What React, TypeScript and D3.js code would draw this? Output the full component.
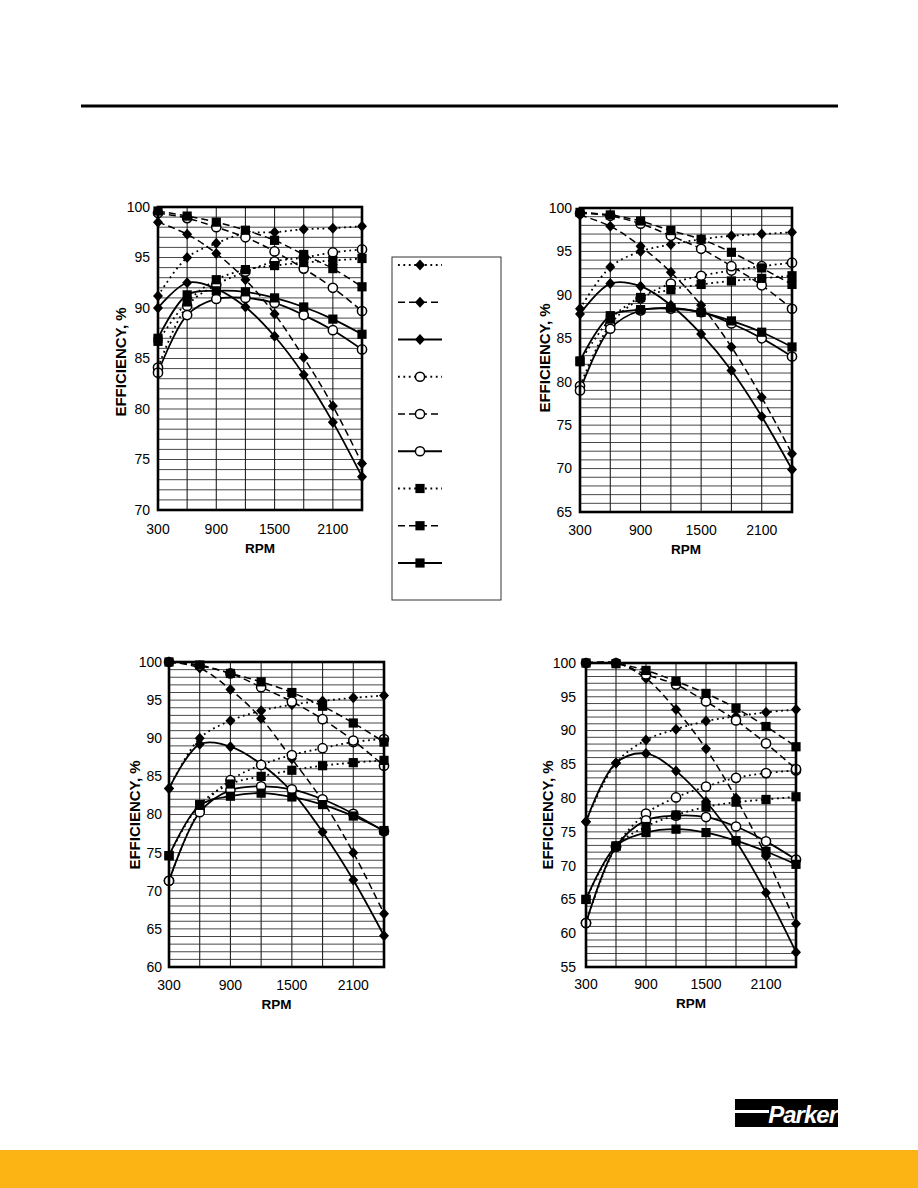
import React from "react";
import * as d3 from "d3";

// ---------- data ----------
const rpm = [300, 600, 900, 1200, 1500, 1800, 2100, 2400];
const rpmTicks = [300, 900, 1500, 2100];
const markerTypes = ["diamond", "diamond", "diamond", "circle", "circle", "circle", "square", "square", "square"];
const lineTypes = ["dotted", "dashed", "solid", "dotted", "dashed", "solid", "dotted", "dashed", "solid"];

// Chart A (top-left)
const aDiamondDotted = [91.2, 95.0, 96.4, 97.4, 97.5, 97.8, 97.9, 98.1];
const aDiamondDashed = [98.5, 97.3, 95.4, 92.8, 89.4, 85.1, 80.3, 74.6];
const aDiamondSolid = [90.0, 92.5, 91.9, 90.1, 87.2, 83.4, 78.7, 73.3];
const aCircleDotted = [84.1, 90.2, 92.3, 93.6, 94.6, 95.0, 95.5, 95.8];
const aCircleDashed = [99.4, 98.9, 98.0, 97.0, 95.6, 93.9, 92.0, 89.7];
const aCircleSolid = [83.6, 89.3, 90.9, 91.0, 90.5, 89.3, 87.8, 85.9];
const aSquareDotted = [86.7, 90.6, 92.8, 93.8, 94.2, 94.5, 94.7, 94.9];
const aSquareDashed = [99.6, 99.1, 98.5, 97.7, 96.7, 95.3, 93.9, 92.1];
const aSquareSolid = [87.0, 91.3, 91.7, 91.6, 91.0, 90.1, 88.9, 87.4];
const aTicks = [70, 75, 80, 85, 90, 95, 100];

// Chart B (top-right)
const bDiamondDotted = [88.4, 93.2, 95.0, 95.8, 96.4, 96.8, 97.0, 97.2];
const bDiamondDashed = [99.2, 97.9, 95.6, 92.6, 88.8, 84.0, 78.2, 71.7];
const bDiamondSolid = [87.8, 91.3, 91.0, 88.8, 85.5, 81.3, 76.0, 69.9];
const bCircleDotted = [79.5, 86.6, 89.6, 91.3, 92.2, 92.8, 93.3, 93.7];
const bCircleDashed = [99.4, 99.1, 98.2, 96.8, 95.3, 93.3, 91.1, 88.4];
const bCircleSolid = [79.0, 86.1, 88.2, 88.4, 88.0, 86.7, 85.0, 82.9];
const bSquareDotted = [82.3, 87.2, 89.7, 90.6, 91.2, 91.6, 91.9, 92.2];
const bSquareDashed = [99.5, 99.2, 98.5, 97.4, 96.4, 94.9, 93.1, 91.2];
const bSquareSolid = [82.4, 87.6, 88.3, 88.5, 88.0, 87.0, 85.7, 84.0];
const bTicks = [65, 70, 75, 80, 85, 90, 95, 100];

// Chart C (bottom-left)
const cDiamondDotted = [83.4, 90.0, 92.3, 93.6, 94.4, 94.9, 95.3, 95.6];
const cDiamondDashed = [100, 99.2, 96.4, 92.6, 87.3, 81.8, 75.0, 67.0];
const cDiamondSolid = [83.4, 89.2, 88.9, 86.6, 83.0, 77.7, 71.4, 64.1];
const cCircleDotted = [71.3, 80.6, 84.5, 86.5, 87.8, 88.7, 89.5, 89.9];
const cCircleDashed = [100, 99.5, 98.5, 96.7, 94.8, 92.5, 89.7, 86.4];
const cCircleSolid = [71.3, 80.3, 83.2, 83.7, 83.3, 82.0, 80.1, 77.8];
const cSquareDotted = [74.6, 81.3, 84.0, 85.0, 85.8, 86.4, 86.8, 87.1];
const cSquareDashed = [100, 99.6, 98.5, 97.4, 96.0, 94.2, 92.0, 89.5];
const cSquareSolid = [74.6, 81.2, 82.4, 82.8, 82.3, 81.3, 79.8, 77.9];
const cTicks = [60, 65, 70, 75, 80, 85, 90, 95, 100];

// Chart D (bottom-right)
const dDiamondDotted = [76.5, 85.2, 88.6, 90.2, 91.4, 92.1, 92.7, 93.1];
const dDiamondDashed = [100, 100, 97.7, 93.1, 87.3, 80.0, 71.4, 61.4];
const dDiamondSolid = [76.5, 85.2, 86.6, 84.0, 79.5, 73.6, 66.0, 57.2];
const dCircleDotted = [61.5, 72.8, 77.7, 80.1, 81.7, 83.0, 83.7, 84.1];
const dCircleDashed = [100, 100, 98.3, 96.8, 94.3, 91.5, 88.1, 84.3];
const dCircleSolid = [61.5, 72.8, 76.7, 77.4, 77.2, 75.8, 73.6, 70.9];
const dSquareDotted = [65.0, 72.9, 75.8, 77.5, 78.7, 79.4, 79.8, 80.2];
const dSquareDashed = [100, 99.9, 98.9, 97.3, 95.5, 93.3, 90.6, 87.6];
const dSquareSolid = [65.0, 72.9, 74.9, 75.4, 74.9, 73.7, 72.1, 70.2];
const dTicks = [55, 60, 65, 70, 75, 80, 85, 90, 95, 100];

const yTitle = "EFFICIENCY, %";
const xTitle = "RPM";

// ---------- helpers ----------
const FONT = "'Liberation Sans', Arial, sans-serif";

function dashFor(t: string) {
  if (t === "dotted") return { dash: "1.8 3.6", width: 1.8 };
  if (t === "dashed") return { dash: "7 4", width: 1.5 };
  return { dash: undefined, width: 1.8 };
}

function Marker({ type, cx, cy }: { type: string; cx: number; cy: number }) {
  if (type === "diamond")
    return <path d={`M${cx},${cy - 5.5} L${cx + 5},${cy} L${cx},${cy + 5.5} L${cx - 5},${cy} Z`} fill="#000" />;
  if (type === "square")
    return <rect x={cx - 4.6} y={cy - 4.6} width={9.2} height={9.2} fill="#000" />;
  return <circle cx={cx} cy={cy} r={4.6} fill="#fff" stroke="#000" strokeWidth={1.5} />;
}

type ChartProps = {
  l: number; r: number; t: number; b: number;
  yMin: number; ticks: number[]; series: number[][];
  tickGap: number; yTitleX: number; yTitleY: number; xTickY: number; xTitleY: number;
};

function Chart(p: ChartProps) {
  const x = d3.scaleLinear().domain([300, 2400]).range([p.l, p.r]);
  const y = d3.scaleLinear().domain([p.yMin, 100]).range([p.b, p.t]);
  const line = d3
    .line<number>()
    .x((_, i) => x(rpm[i]))
    .y((d) => y(d))
    .curve(d3.curveCatmullRom.alpha(0.5));
  const hGrid = d3.range(p.yMin + 1, 100);
  const vGrid = rpm.slice(1, -1);
  return (
    <g>
      <rect x={p.l} y={p.t} width={p.r - p.l} height={p.b - p.t} fill="#fff" />
      {hGrid.map((v) => (
        <line key={"h" + v} x1={p.l} x2={p.r} y1={y(v)} y2={y(v)} stroke="#333" strokeWidth={0.9} />
      ))}
      {vGrid.map((v) => (
        <line key={"v" + v} x1={x(v)} x2={x(v)} y1={p.t} y2={p.b} stroke="#222" strokeWidth={1.1} />
      ))}
      {p.series.map((s, i) => {
        const st = dashFor(lineTypes[i]);
        return (
          <path key={"l" + i} d={line(s) || ""} fill="none" stroke="#000" strokeWidth={st.width} strokeDasharray={st.dash} />
        );
      })}
      {p.series.map((s, i) =>
        s.map((v, j) => <Marker key={`m${i}-${j}`} type={markerTypes[i]} cx={x(rpm[j])} cy={y(v)} />)
      )}
      <rect x={p.l} y={p.t} width={p.r - p.l} height={p.b - p.t} fill="none" stroke="#000" strokeWidth={2.6} />
      {p.ticks.map((v) => (
        <text key={"yt" + v} x={p.l - p.tickGap} y={y(v)} dy="0.35em" textAnchor="end" fontSize={14} fontFamily={FONT} fill="#000">
          {v}
        </text>
      ))}
      {rpmTicks.map((v) => (
        <text key={"xt" + v} x={x(v)} y={p.xTickY} dy="0.35em" textAnchor="middle" fontSize={14} fontFamily={FONT} fill="#000">
          {v}
        </text>
      ))}
      <text x={(p.l + p.r) / 2} y={p.xTitleY} dy="0.35em" textAnchor="middle" fontSize={13.5} fontWeight="bold" fontFamily={FONT}>
        {xTitle}
      </text>
      <text
        transform={`translate(${p.yTitleX},${p.yTitleY}) rotate(-90)`}
        dy="0.35em"
        textAnchor="middle"
        fontSize={15}
        fontWeight="bold"
        fontFamily={FONT}
      >
        {yTitle}
      </text>
    </g>
  );
}

function Legend() {
  const top = 257, bottom = 600, left = 392, right = 501;
  const ys = d3.range(9).map((i) => 265 + i * 37.25);
  return (
    <g>
      <rect x={left} y={top} width={right - left} height={bottom - top} fill="#fff" stroke="#333" strokeWidth={1} />
      {ys.map((yy, i) => {
        const st = dashFor(lineTypes[i]);
        return (
          <g key={i}>
            <line x1={398} x2={442} y1={yy} y2={yy} stroke="#000" strokeWidth={st.width} strokeDasharray={st.dash} />
            <Marker type={markerTypes[i]} cx={420} cy={yy} />
          </g>
        );
      })}
    </g>
  );
}

export default function App() {
  return (
    <svg width={918} height={1188} style={{ position: "absolute", left: 0, top: 0, background: "#fff" }}>
      <rect width={918} height={1188} fill="#fff" />
      <line x1={81} x2={838} y1={106} y2={106} stroke="#000" strokeWidth={3} />
      <Chart
        l={158} r={362} t={207} b={510} yMin={70} ticks={aTicks}
        series={[aDiamondDotted, aDiamondDashed, aDiamondSolid, aCircleDotted, aCircleDashed, aCircleSolid, aSquareDotted, aSquareDashed, aSquareSolid]}
        tickGap={8} yTitleX={121} yTitleY={362} xTickY={529} xTitleY={548}
      />
      <Chart
        l={580} r={792} t={208} b={512} yMin={65} ticks={bTicks}
        series={[bDiamondDotted, bDiamondDashed, bDiamondSolid, bCircleDotted, bCircleDashed, bCircleSolid, bSquareDotted, bSquareDashed, bSquareSolid]}
        tickGap={8} yTitleX={545} yTitleY={358} xTickY={530} xTitleY={549}
      />
      <Chart
        l={169} r={384} t={662} b={967} yMin={60} ticks={cTicks}
        series={[cDiamondDotted, cDiamondDashed, cDiamondSolid, cCircleDotted, cCircleDashed, cCircleSolid, cSquareDotted, cSquareDashed, cSquareSolid]}
        tickGap={7} yTitleX={135} yTitleY={815} xTickY={985} xTitleY={1004}
      />
      <Chart
        l={586} r={796} t={663} b={967} yMin={55} ticks={dTicks}
        series={[dDiamondDotted, dDiamondDashed, dDiamondSolid, dCircleDotted, dCircleDashed, dCircleSolid, dSquareDotted, dSquareDashed, dSquareSolid]}
        tickGap={10} yTitleX={548} yTitleY={815} xTickY={984} xTitleY={1003}
      />
      <Legend />
      <g>
        <rect x={735} y={1099} width={103} height={28} fill="#000" />
        <rect x={735} y={1110} width={34} height={3} fill="#fff" />
        <text x={837} y={1123} textAnchor="end" fontSize={24} fontWeight="bold" fontStyle="italic" fontFamily={FONT} fill="#fff" letterSpacing={-1}>
          Parker
        </text>
      </g>
      <rect x={0} y={1150} width={918} height={38} fill="#FCB415" />
    </svg>
  );
}
